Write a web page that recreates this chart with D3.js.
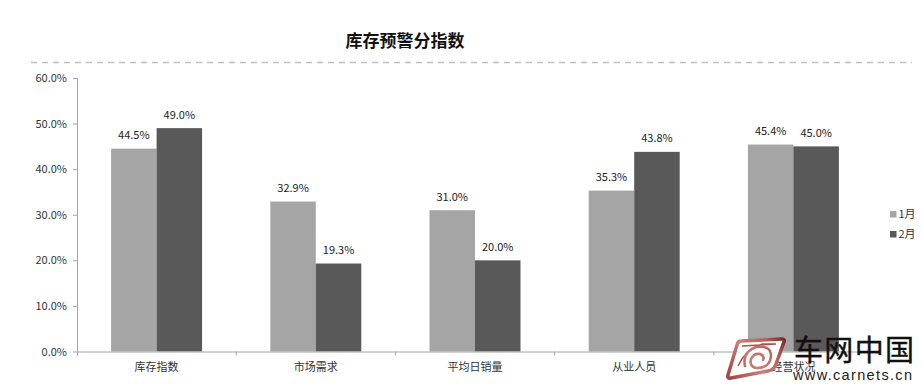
<!DOCTYPE html>
<html>

<head>
	<meta charset="utf-8" />
	<title>库存预警分指数</title>
	<script src="https://d3js.org/d3.v7.min.js"></script>
	<style>
		body {
			margin: 0;
			padding: 0;
			background: #fff;
		}

		text {
			font-family: 'Noto Sans CJK SC', 'Open Sans', sans-serif;
		}

		.domain {
			stroke: #a6a6a6;
		}

		.tick line {
			stroke: #a6a6a6;
		}

		.tick text {
			fill: #333;
			font-size: 11px;
		}
	</style>
</head>

<body>
	<div id="chart"></div>
	<script>
		var categories = ['库存指数', '市场需求', '平均日销量', '从业人员', '经营状况'];
		var seriesNames = ['1月', '2月'];
		var jan = [44.5, 32.9, 31.0, 35.3, 45.4];
		var feb = [49.0, 19.3, 20.0, 43.8, 45.0];
		var yTicks = [0, 10, 20, 30, 40, 50, 60];

		var w = 922;
		var h = 391;
		var margin = { top: 78, right: 49, bottom: 39.5, left: 77 };

		var colors = ['#a5a5a5', '#595959'];
		var values = [jan, feb];

		var svg = d3.select('#chart').append('svg')
			.attr('width', w)
			.attr('height', h)
			.style('display', 'block');

		var x = d3.scaleBand()
			.domain(categories)
			.range([margin.left, w - margin.right])
			.paddingInner(0)
			.paddingOuter(0);

		// two bars in each band, gap on both sides
		var inner = d3.scaleBand()
			.domain(seriesNames)
			.range([0, x.bandwidth()])
			.paddingOuter(0.75)
			.paddingInner(0);

		var y = d3.scaleLinear()
			.domain([0, 60])
			.range([h - margin.bottom, margin.top]);

		// title and dashed rule
		svg.append('text')
			.attr('x', 405)
			.attr('y', 46.5)
			.attr('text-anchor', 'middle')
			.attr('font-size', '17px')
			.attr('font-weight', 'bold')
			.attr('fill', '#111')
			.text('库存预警分指数');

		svg.append('line')
			.attr('x1', 31)
			.attr('x2', 912)
			.attr('y1', 62.5)
			.attr('y2', 62.5)
			.attr('stroke', '#bfbfbf')
			.attr('stroke-width', 1.5)
			.attr('stroke-dasharray', '6 5');

		// bars
		seriesNames.forEach(function(name, s) {
			svg.selectAll('rect.s' + s)
				.data(values[s])
				.join('rect')
				.attr('class', 's' + s)
				.attr('x', function(d, i) {
					return x(categories[i]) + inner(name);
				})
				.attr('y', function(d) {
					return y(d);
				})
				.attr('width', inner.bandwidth())
				.attr('height', function(d) {
					return y(0) - y(d);
				})
				.attr('fill', colors[s]);

			svg.selectAll('text.v' + s)
				.data(values[s])
				.join('text')
				.attr('class', 'v' + s)
				.attr('x', function(d, i) {
					return x(categories[i]) + inner(name) + inner.bandwidth() / 2;
				})
				.attr('y', function(d) {
					return y(d) - 9.5;
				})
				.attr('text-anchor', 'middle')
				.attr('font-size', '11px')
				.attr('fill', '#222')
				.text(function(d) {
					return d.toFixed(1) + '%';
				});
		});

		// axes
		var yAxis = d3.axisLeft(y)
			.tickValues(yTicks)
			.tickSize(4)
			.tickPadding(6)
			.tickFormat(function(d) {
				return d.toFixed(1) + '%';
			});

		var yG = svg.append('g')
			.attr('transform', 'translate(' + margin.left + ',0)')
			.call(yAxis);
		yG.select('.domain').attr('d', 'M0.5,' + y(60) + 'V' + (y(0) + 4));

		var xAxis = d3.axisBottom(x).tickSize(0).tickPadding(12);
		var xG = svg.append('g')
			.attr('transform', 'translate(0,' + y(0) + ')')
			.call(xAxis);

		xG.selectAll('line.sep')
			.data(categories.slice(1))
			.join('line')
			.attr('class', 'sep')
			.attr('x1', function(d) {
				return x(d);
			})
			.attr('x2', function(d) {
				return x(d);
			})
			.attr('y1', 0)
			.attr('y2', 4)
			.attr('stroke', '#a6a6a6');

		// legend
		var legend = svg.append('g')
			.selectAll('g')
			.data(seriesNames)
			.join('g')
			.attr('transform', function(d, i) {
				return 'translate(890,' + (211 + i * 20) + ')';
			});
		legend.append('rect')
			.attr('width', 6.5)
			.attr('height', 6.5)
			.attr('fill', function(d, i) {
				return colors[i];
			});
		legend.append('text')
			.attr('x', 8.5)
			.attr('y', 7)
			.attr('font-size', '11px')
			.attr('fill', '#333')
			.text(function(d) {
				return d;
			});

		// watermark, sits on top of the chart
		var mark = svg.append('g');
		var grad = svg.append('defs').append('linearGradient')
			.attr('id', 'logoGrad')
			.attr('gradientUnits', 'userSpaceOnUse')
			.attr('x1', 725).attr('y1', 380).attr('x2', 787).attr('y2', 337);
		grad.append('stop').attr('offset', 0).attr('stop-color', '#9a3d38');
		grad.append('stop').attr('offset', 0.45).attr('stop-color', '#c98079');
		grad.append('stop').attr('offset', 0.75).attr('stop-color', '#b8605a');
		grad.append('stop').attr('offset', 1).attr('stop-color', '#6e1c1a');

		// white backing inside the frame
		mark.append('path')
			.attr('d', 'M739,341 L783,339 L773,370 L728,378 Z')
			.attr('fill', '#fff');
		// outer frame
		mark.append('path')
			.attr('d', 'M741,341 L782,339 Q785,339 784,342 L776,364 Q774,370 768,371 L731,378 Q727,379 728,375 L737,345 Q738,341 741,341 Z')
			.attr('fill', 'none')
			.attr('stroke', 'url(#logoGrad)')
			.attr('stroke-width', 3.5);
		// band under the top edge
		mark.append('path')
			.attr('d', 'M742,346 L776,344 L762,344 Q745,350 738,366')
			.attr('fill', 'none')
			.attr('stroke', '#a9504a')
			.attr('stroke-width', 1.5);
		// swirl in the middle
		mark.append('path')
			.attr('d', 'M745,366 Q742,352 756,347 Q771,345 771,356 Q770,368 757,368 Q749,367 751,359 Q754,353 760,354 Q765,356 763,360')
			.attr('fill', 'none')
			.attr('stroke', 'url(#logoGrad)')
			.attr('stroke-width', 2.6)
			.attr('stroke-linecap', 'round');

		mark.append('text')
			.attr('x', 794)
			.attr('y', 361)
			.attr('font-size', '29px')
			.attr('fill', '#111')
			.attr('stroke', '#111')
			.attr('stroke-width', 0.4)
			.attr('textLength', 120)
			.text('车网中国');
		mark.append('text')
			.attr('x', 793)
			.attr('y', 380)
			.style('font-family', "'Liberation Sans', sans-serif")
			.attr('font-size', '14.5px')
			.attr('fill', '#222')
			.attr('textLength', 119)
			.text('www.carnets.cn');
	</script>
</body>

</html>
